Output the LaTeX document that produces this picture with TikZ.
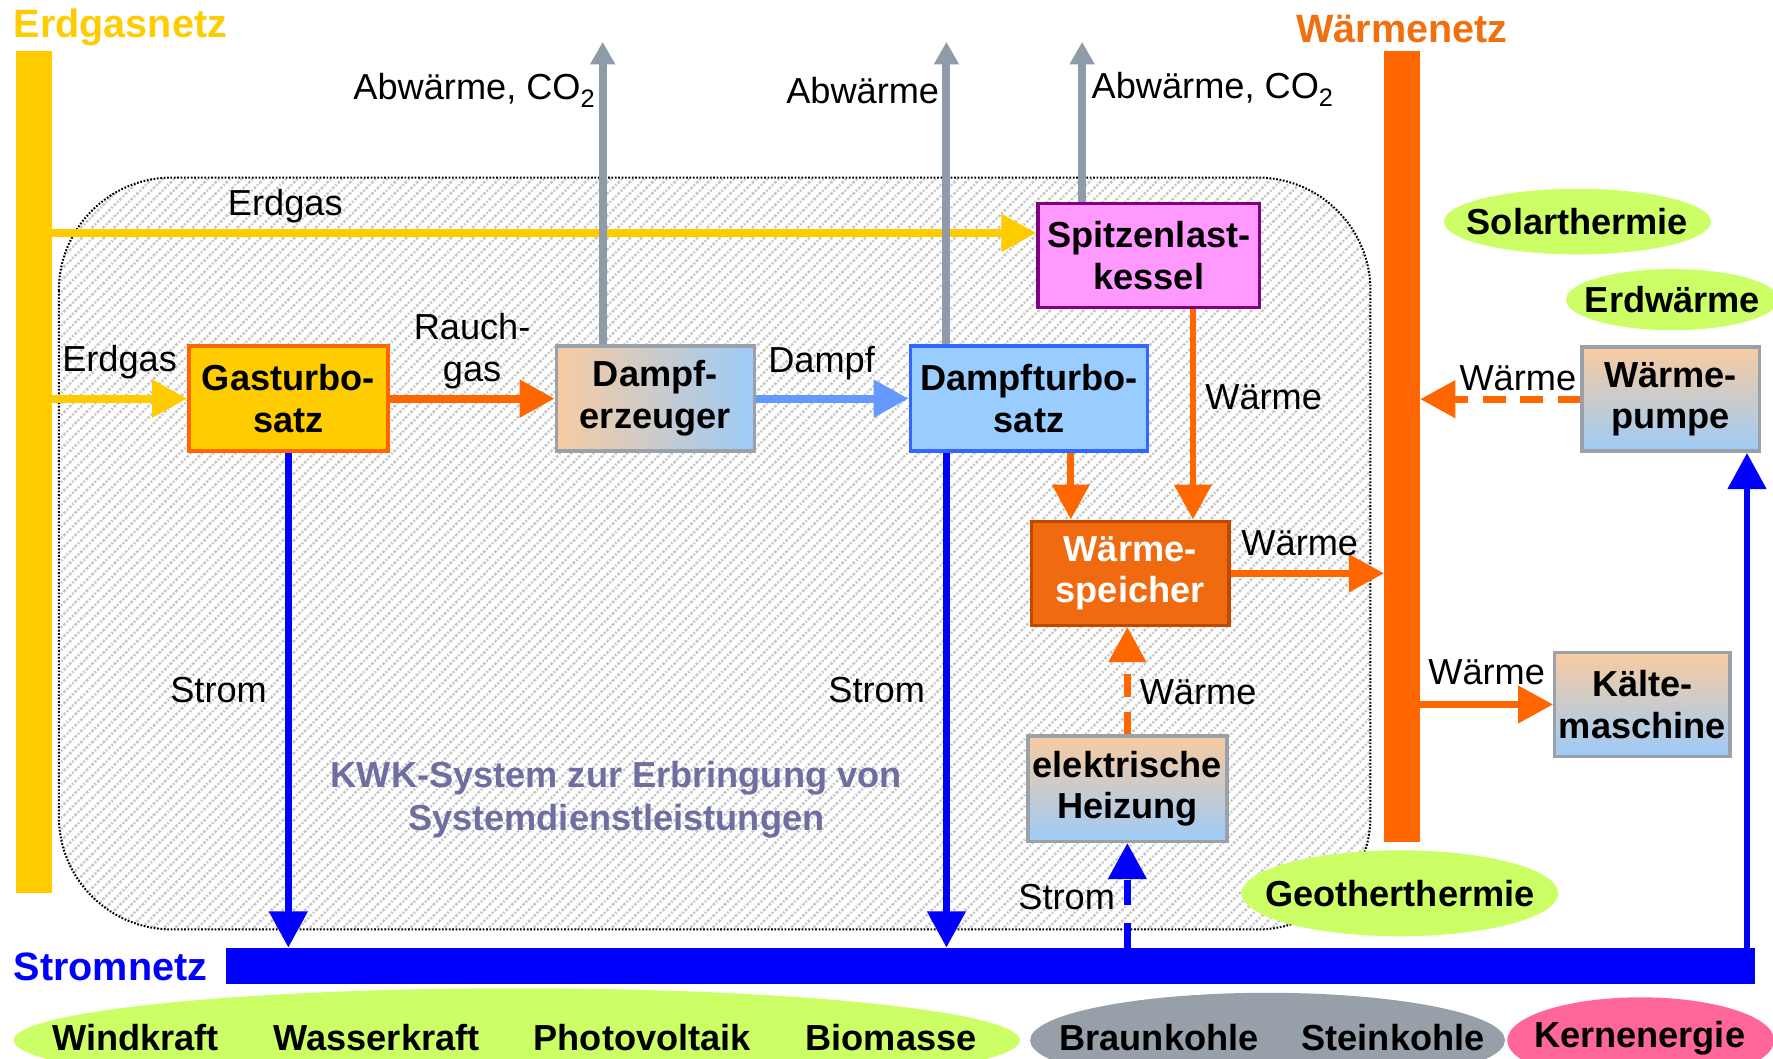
\documentclass[tikz,border=0pt]{standalone}
\usepackage{fontspec}
\setmainfont{Liberation Sans}
\usetikzlibrary{shapes.geometric,arrows.meta,calc,patterns.meta}
\definecolor{cyel}{HTML}{FFCC00}
\definecolor{corg}{HTML}{FF6600}
\definecolor{cblu}{HTML}{0000FF}
\definecolor{cdampf}{HTML}{6699FF}
\definecolor{cgray}{HTML}{8F9BA8}
\definecolor{cgreen}{HTML}{CCFF66}
\definecolor{cgrayell}{HTML}{979FA8}
\definecolor{cpink}{HTML}{FF6699}
\definecolor{cpeach}{HTML}{F8CBA0}
\definecolor{clblue}{HTML}{9DCBF8}
\definecolor{cboxgray}{HTML}{9AA1A8}
\definecolor{cmag}{HTML}{FF99FF}
\definecolor{cpurple}{HTML}{800080}
\definecolor{cdtfill}{HTML}{99CCFF}
\definecolor{cdtborder}{HTML}{3366FF}
\definecolor{cspfill}{HTML}{F06A10}
\definecolor{cspborder}{HTML}{C04800}
\definecolor{ckwk}{HTML}{6E6EA0}
\definecolor{chatch}{HTML}{C6C6C6}
\definecolor{ctitleorg}{HTML}{F07010}
\begin{document}
\begin{tikzpicture}[x=1pt,y=-1pt,
  box/.style={rectangle, align=center, inner sep=0pt, line width=3pt,
    font=\fontsize{32}{37}\selectfont\bfseries},
  lbl/.style={font=\fontsize{32}{37}\selectfont, inner sep=2pt, text=black},
  ttl/.style={font=\fontsize{35}{40}\selectfont\bfseries, inner sep=0pt},
  src/.style={ellipse, fill=cgreen, inner sep=0pt},
  srctext/.style={inner sep=0pt, font=\fontsize{32}{37}\selectfont\bfseries},
  flow/.style={line width=7pt, -{Triangle[length=31pt,width=32pt]}},
  exh/.style={line width=7pt, color=cgray, -{Triangle[length=20pt,width=21pt]}},
  strom/.style={line width=6pt, color=cblu, -{Triangle[length=32pt,width=33pt]}},
  dsh/.style={dash pattern=on 20pt off 13pt},
  bar/.style={inner sep=0pt, outer sep=0pt}
]
\useasboundingbox (0,0) rectangle (1568,936);
\clip (0,0) rectangle (1568,936);
\fill[white] (0,0) rectangle (1568,936);

% KWK system area
\draw[line width=1.8pt, dash pattern=on 1.5pt off 1.5pt, rounded corners=100pt,
  pattern={Lines[angle=45,distance=7pt,line width=2.2pt]}, pattern color=chatch]
  (52,157) rectangle (1212,822);
\node[font=\fontsize{32}{38}\selectfont\bfseries, text=ckwk, align=center] (kwk) at (545,707)
  {KWK-System zur Erbringung von\\Systemdienstleistungen};

% networks
\node[bar, fill=cyel, minimum width=32pt, minimum height=745pt] (gn) at (30,417.5) {};
\node[bar, fill=corg, minimum width=32pt, minimum height=700pt] (wn) at (1240,395) {};
\node[bar, fill=cblu, minimum width=1352pt, minimum height=32pt] (sn) at (876,854) {};
\node[ttl, text=cyel, anchor=west] (tgn) at (12,24) {Erdgasnetz};
\node[ttl, text=ctitleorg] (twn) at (1240,26) {Wärmenetz};
\node[ttl, text=cblu, anchor=west] (tsn) at (12,855) {Stromnetz};

% boxes
\node[box, fill=cyel, draw=corg, minimum width=176pt, minimum height=93pt] (gts) at (255,352.5) {Gasturbo-\\satz};
\node[box, left color=cpeach, right color=clblue, draw=cboxgray, minimum width=175pt, minimum height=93pt] (dz) at (579.5,352.5) {Dampf-\\erzeuger};
\node[box, fill=cdtfill, draw=cdtborder, minimum width=210pt, minimum height=93pt] (dt) at (910,352.5) {Dampfturbo-\\satz};
\node[box, fill=cmag, draw=cpurple, minimum width=196pt, minimum height=92pt] (sk) at (1016,226) {Spitzenlast-\\kessel};
\node[box, fill=cspfill, draw=cspborder, text=white, minimum width=175pt, minimum height=92pt] (ws) at (999.5,507) {Wärme-\\speicher};
\node[box, top color=cpeach, bottom color=clblue, draw=cboxgray, minimum width=176pt, minimum height=93pt] (eh) at (997,697.5) {elektrische\\Heizung};
\node[box, top color=cpeach, bottom color=clblue, draw=cboxgray, minimum width=157pt, minimum height=92pt] (wp) at (1477.5,353) {Wärme-\\pumpe};
\node[box, top color=cpeach, bottom color=clblue, draw=cboxgray, minimum width=155pt, minimum height=92pt] (km) at (1452.5,623) {Kälte-\\maschine};

% sources
\node[src, minimum width=236pt, minimum height=58pt] (sol) at (1395,196) {};
\node[srctext] (solt) at (sol.center) {Solarthermie};
\node[src, minimum width=188pt, minimum height=54pt] (erd) at (1479,265) {};
\node[srctext] (erdt) at (1479,265) {Erdwärme};
\node[src, minimum width=280pt, minimum height=76pt] (geo) at (1238,790) {};
\node[srctext] (geot) at (geo.center) {Geotherthermie};
\node[src, minimum width=890pt, minimum height=92pt] (ren) at (457,920) {};
\node[srctext] (wind) at (120,918) {Windkraft};
\node[srctext] (wass) at (333,918) {Wasserkraft};
\node[srctext] (pv) at (568,918) {Photovoltaik};
\node[srctext] (bio) at (788,918) {Biomasse};
\node[src, fill=cgrayell, minimum width=420pt, minimum height=84pt] (fos) at (1121,920) {};
\node[srctext] (braun) at (1025,918) {Braunkohle};
\node[srctext] (stein) at (1232,918) {Steinkohle};
\node[src, fill=cpink, minimum width=236pt, minimum height=76pt] (kern) at (1451,920) {};
\node[srctext] (kernt) at (1450,918) {Kernenergie};

% helper coordinates
\coordinate (skin) at ($(sk.north west)!0.29!(sk.south west)$);
\coordinate (a1) at (533,37);
\coordinate (a2) at (837,37);
\coordinate (a3) at (957,37);
\coordinate (o1) at (947,0);
\coordinate (o2) at (1055,0);
\coordinate (b1) at (1545,0);

% gas
\draw[flow, color=cyel] (gn.east |- skin) -- node[lbl, pos=0.237, above=3pt] {Erdgas} (skin);
\draw[flow, color=cyel] (gn.east |- gts.west) -- node[lbl, above=12pt] {Erdgas} (gts.west);
\draw[flow, color=corg] (gts.east) -- node[lbl, above=3pt, align=center] {Rauch-\\gas} (dz.west);
\draw[flow, color=cdampf] (dz.east) -- node[lbl, pos=0.43, above=11pt] {Dampf} (dt.west);

% exhaust
\draw[exh] (a1 |- dz.north) -- node[lbl, pos=0.84, left=1pt] {Abwärme, CO\textsubscript{2}} (a1);
\draw[exh] (a2 |- dt.north) -- node[lbl, pos=0.84, left=1pt] {Abwärme} (a2);
\draw[exh] (a3 |- sk.north) -- node[lbl, pos=0.70, right=3pt] {Abwärme, CO\textsubscript{2}} (a3);

% electricity
\draw[strom] (gts.south) -- node[lbl, pos=0.48, left=14pt] {Strom} (gts.south |- sn.north);
\draw[strom] (a2 |- dt.south) -- node[lbl, pos=0.48, left=14pt] {Strom} (a2 |- sn.north);
\draw[strom, dash pattern=on 22pt off 16pt] (eh.south |- sn.north) -- node[lbl, pos=0.48, left=6pt] {Strom} (eh.south);
\draw[strom] (b1 |- sn.north) -- (b1 |- wp.south);

% heat
\draw[flow, line width=6pt, color=corg] (o1 |- dt.south) -- (o1 |- ws.north);
\draw[flow, line width=6pt, color=corg] (o2 |- sk.south) -- node[lbl, pos=0.42, right=6pt] {Wärme} (o2 |- ws.north);
\draw[flow, line width=6pt, color=corg] (ws.east) -- node[lbl, pos=0.45, above=10pt] {Wärme} (ws.east -| wn.west);
\draw[flow, line width=6pt, color=corg, dsh] (eh.north) -- node[lbl, pos=0.39, right=6pt] {Wärme} (eh.north |- ws.south);
\draw[flow, line width=6pt, color=corg, dsh] (wp.west) -- node[lbl, pos=0.39, above=2pt] {Wärme} (wp.west -| wn.east);
\draw[flow, line width=6pt, color=corg] (wn.east |- km.west) -- node[lbl, above=12pt] {Wärme} (km.west);
\end{tikzpicture}
\end{document}
